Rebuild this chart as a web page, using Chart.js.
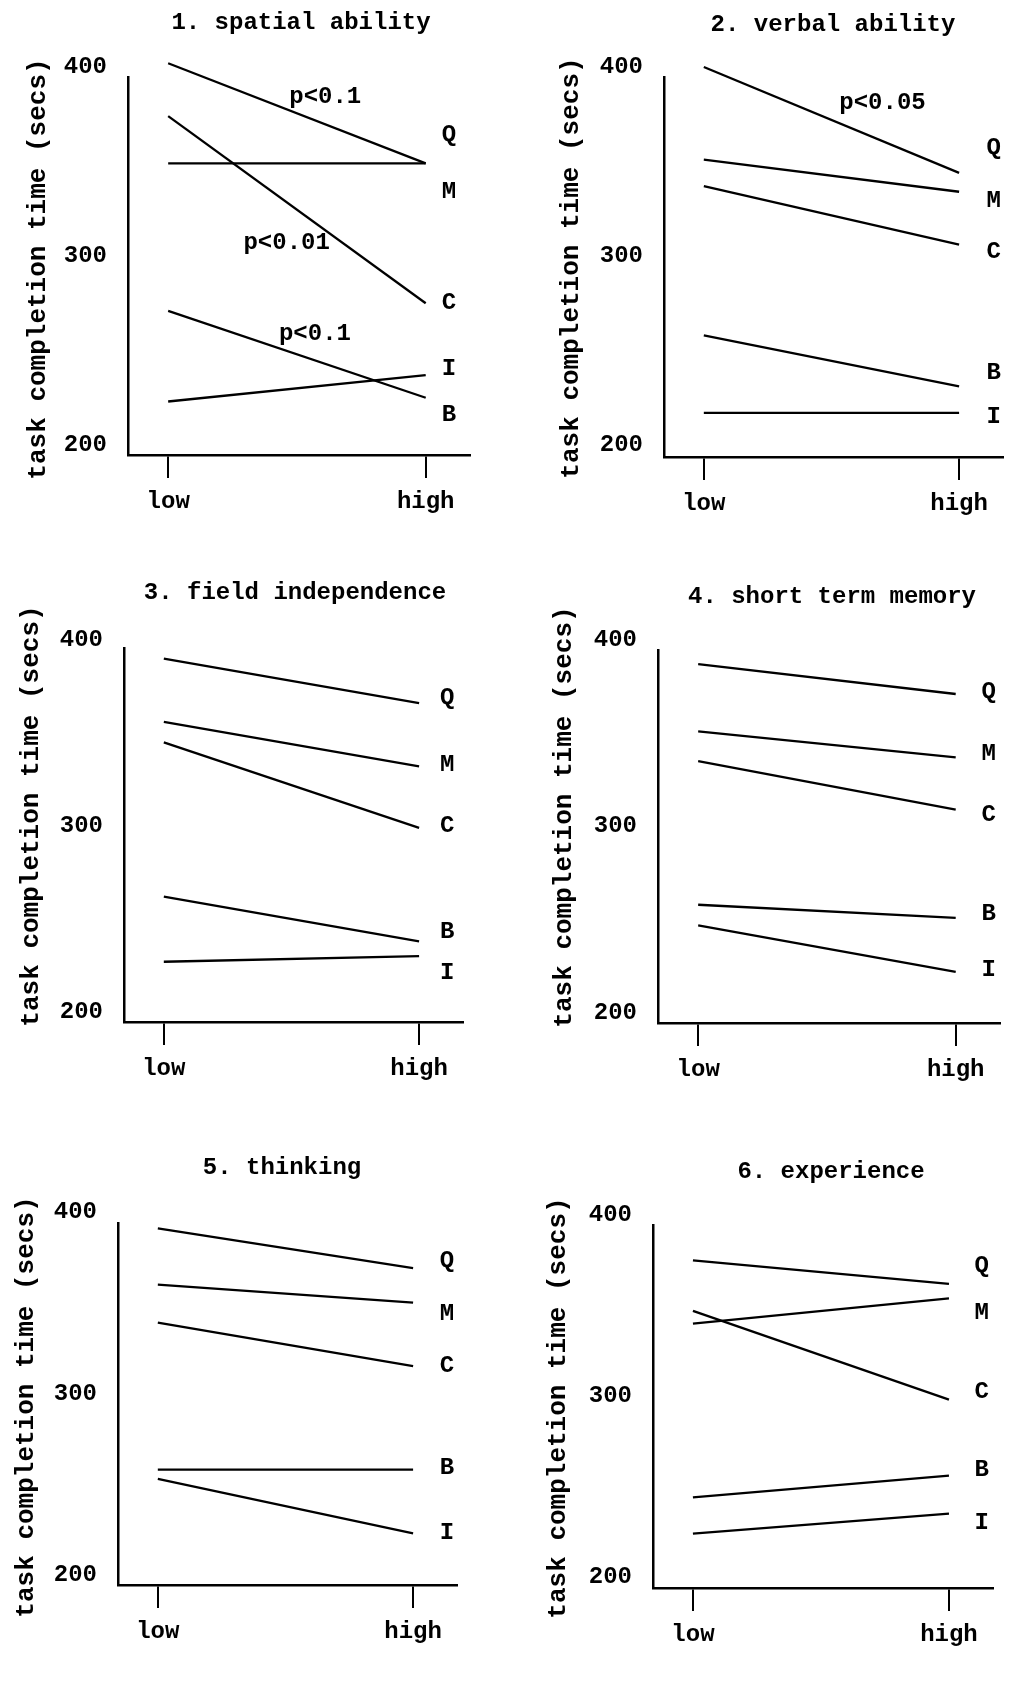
<!DOCTYPE html>
<html><head><meta charset="utf-8">
<script src="https://cdn.jsdelivr.net/npm/chart.js@4/dist/chart.umd.min.js"></script>
<style>
html,body{margin:0;padding:0;background:#fff;width:1016px;height:1686px;overflow:hidden;position:relative;}
canvas{position:absolute;}
</style></head><body>
<script>
// ---------- data ----------
const panelTitles = ['1. spatial ability','2. verbal ability','3. field independence','4. short term memory','5. thinking','6. experience'];
const seriesNames = ['Q','M','C','B','I'];
const xCategories = ['low','high'];
const xValues = [0, 1];
const yTickValues = [200, 300, 400];
const yAxisTitle = 'task completion time (secs)';
// [low, high] for each series, order Q, M, C, B, I
const spatialAbility    = [[402,349],[349,349],[374,275],[271,225],[223,237]];
const verbalAbility     = [[400,344],[351,334],[337,306],[258,231],[217,217]];
const fieldIndependence = [[390,366],[356,332],[345,299],[262,238],[227,230]];
const shortTermMemory   = [[387,371],[351,337],[335,309],[258,251],[247,222]];
const thinking          = [[391,369],[360,350],[339,315],[258,258],[253,223]];
const experience        = [[375,362],[340,354],[347,298],[244,256],[224,235]];
const panelData = [spatialAbility, verbalAbility, fieldIndependence, shortTermMemory, thinking, experience];
// series label anchors (data units), order Q, M, C, B, I
const labelHeights = [[364,334,275,216,240],[357,329,302,238,215],[369,333,300,243,221],[372,339,306,253,223],[373,344,315,259,223],[372,346,302,259,230]];
const labelX = [1.09, 1.136, 1.11, 1.128, 1.133, 1.128];
// significance notes: [text, x, y] in data units
const pNotes = [[['p<0.1',0.61,384],['p<0.01',0.46,307],['p<0.1',0.57,259]],[['p<0.05',0.70,381]],[],[],[],[]];
// visible axis extent (data units) per panel: [min, max]
const yRanges = [[194.7,394.7],[193.7,394.7],[194.6,395.7],[194.6,394.6],[194.5,393.9],[193.9,394.5]];

// ---------- layout (page px) ----------
const areas = [[128,77,470,455],[664,77,1003,457],[124,648,463,1022],[658,650,1000,1023],[118,1223,457,1585],[653,1225,993,1588]];
const titlePos = [[301,23],[833,25],[295,593],[832,597],[282,1168],[831,1172]];
const yTitlePos = [[38,269],[571,268],[31,816],[564,817],[26,1407],[558,1408]];
const Y_AXIS_W = 110, X_AXIS_H = 80, TOP_PAD = 77, RIGHT_PAD = 14;
const FONT = '"Liberation Mono", "DejaVu Sans Mono", monospace';

const textPlugin = {
  id: 'panelText',
  afterDraw(chart, args, opts) {
    const k = opts.k;
    const {ctx} = chart;
    const xs = chart.scales.x, ys = chart.scales.y;
    const ox = areas[k][0] - Y_AXIS_W, oy = areas[k][1] - TOP_PAD;
    ctx.save();
    ctx.fillStyle = '#000';
    ctx.textAlign = 'center';
    ctx.textBaseline = 'middle';
    ctx.font = 'bold 24px ' + FONT;
    ctx.fillText(panelTitles[k], titlePos[k][0] - ox, titlePos[k][1] - oy);
    seriesNames.forEach((n, i) => {
      ctx.fillText(n, xs.getPixelForValue(labelX[k]), ys.getPixelForValue(labelHeights[k][i]));
    });
    pNotes[k].forEach(([t, xv, yv]) => {
      ctx.fillText(t, xs.getPixelForValue(xv), ys.getPixelForValue(yv));
    });
    ctx.save();
    ctx.translate(yTitlePos[k][0] - ox, yTitlePos[k][1] - oy);
    ctx.rotate(-Math.PI / 2);
    ctx.font = 'bold 26px ' + FONT;
    ctx.fillText(yAxisTitle, 0, 0);
    ctx.restore();
    ctx.restore();
  }
};

panelData.forEach((rows, k) => {
  const [L, T, R, B] = areas[k];
  const cv = document.createElement('canvas');
  const w = (R - L) + Y_AXIS_W + RIGHT_PAD;
  const h = (B - T) + TOP_PAD + X_AXIS_H;
  cv.width = w; cv.height = h;
  cv.style.width = w + 'px'; cv.style.height = h + 'px';
  cv.style.left = (L - Y_AXIS_W) + 'px';
  cv.style.top = (T - TOP_PAD) + 'px';
  document.body.appendChild(cv);
  new Chart(cv, {
    type: 'line',
    data: {
      datasets: seriesNames.map((n, i) => ({
        label: n,
        data: xValues.map((xv, j) => ({x: xv, y: rows[i][j]})),
        borderColor: '#000', borderWidth: 2.3, pointRadius: 0, fill: false, tension: 0, clip: false
      }))
    },
    options: {
      responsive: false, animation: false, devicePixelRatio: 1,
      layout: {padding: {top: TOP_PAD, left: 0, right: RIGHT_PAD, bottom: 0}},
      plugins: {legend: {display: false}, tooltip: {enabled: false}, panelText: {k: k}},
      scales: {
        x: {
          type: 'linear', min: -0.156, max: 1.172,
          afterBuildTicks: s => { s.ticks = xValues.map(v => ({value: v})); },
          afterFit: s => { s.height = X_AXIS_H; },
          ticks: {callback: (v, i) => xCategories[i], font: {family: FONT, size: 24, weight: 'bold'}, color: '#000', padding: 10, autoSkip: false, maxRotation: 0},
          grid: {drawOnChartArea: false, drawTicks: true, tickLength: 23, color: '#000', lineWidth: 2},
          border: {display: true, color: '#000', width: 2.5}
        },
        y: {
          type: 'linear', min: yRanges[k][0], max: yRanges[k][1],
          afterBuildTicks: s => { s.ticks = yTickValues.map(v => ({value: v})); },
          afterFit: s => { s.width = Y_AXIS_W; },
          ticks: {font: {family: FONT, size: 24, weight: 'bold'}, color: '#000', padding: 21, autoSkip: false},
          grid: {display: false, drawTicks: false},
          border: {display: true, color: '#000', width: 2.5}
        }
      }
    },
    plugins: [textPlugin]
  });
});
</script>
</body></html>
